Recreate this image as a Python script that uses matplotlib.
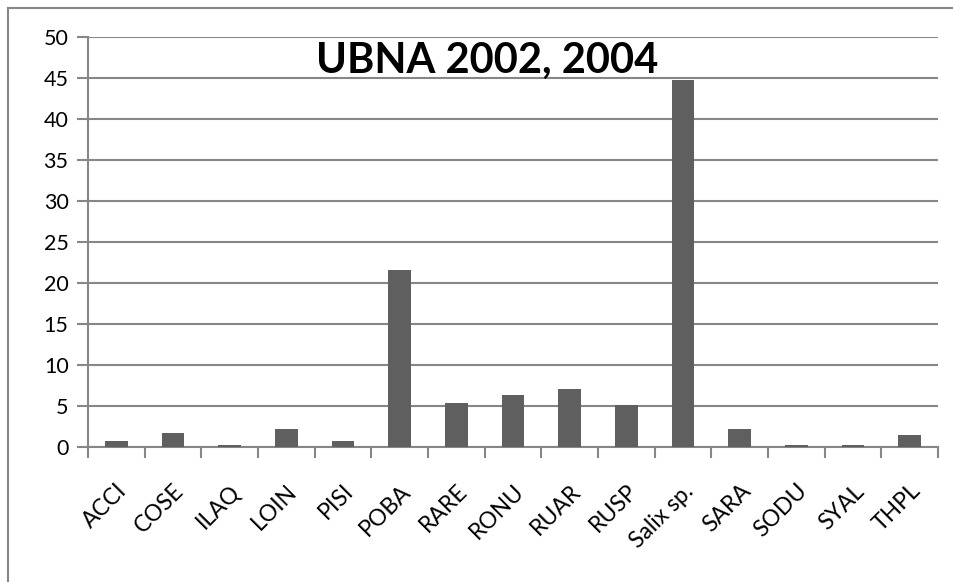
import numpy as np
import matplotlib as mpl
import matplotlib.pyplot as plt
from matplotlib.lines import Line2D

species = ['ACCI', 'COSE', 'ILAQ', 'LOIN', 'PISI', 'POBA', 'RARE', 'RONU',
           'RUAR', 'RUSP', 'Salix sp.', 'SARA', 'SODU', 'SYAL', 'THPL']
cover = [0.7, 1.7, 0.3, 2.2, 0.7, 21.6, 5.4, 6.4, 7.1, 5.1, 44.8, 2.2, 0.3, 0.3, 1.5]
yticks = [0, 5, 10, 15, 20, 25, 30, 35, 40, 45, 50]

plt.rcParams['font.family'] = ['Lato', 'DejaVu Sans']

grid_c = '#868686'
bar_c = '#5f5f5f'

fig = plt.figure(figsize=(9.54, 5.82), dpi=100)
ax = fig.add_axes([88 / 954, 1 - 447 / 582, 850 / 954, 410 / 582])

x = np.arange(len(species))
ax.bar(x, cover, width=0.4, color=bar_c, zorder=3)

ax.set_xlim(-0.5, len(species) - 0.5)
ax.set_ylim(0, 50)
ax.set_yticks(yticks)
ax.tick_params(axis='y', length=8, width=1.5, color=grid_c, labelsize=15.5, pad=6)
ax.yaxis.grid(True, color=grid_c, lw=1.5, zorder=0)

# boundary ticks between categories, labels at the centres
ax.set_xticks(np.arange(len(species) + 1) - 0.5)
ax.set_xticklabels([])
ax.tick_params(axis='x', which='major', length=8, width=1.5, color=grid_c)
ax.set_xticks(x, minor=True)
ax.set_xticklabels(species, minor=True, rotation=45, ha='right', va='top',
                   rotation_mode='anchor', fontsize=16.5)
ax.tick_params(axis='x', which='minor', length=0, pad=24)

for s in ['top', 'right']:
    ax.spines[s].set_visible(False)
for s in ['left', 'bottom']:
    ax.spines[s].set_color(grid_c)
    ax.spines[s].set_linewidth(1.5)
ax.set_axisbelow(True)

fig.text(487 / 954, 1 - 73 / 582, 'UBNA 2002, 2004', ha='center', va='baseline',
         fontsize=30, fontweight='bold')

# outer chart frame
fig.add_artist(Line2D([8 / 954, 8 / 954], [0, 1 - 8 / 582], color=grid_c, lw=1.5))
fig.add_artist(Line2D([8 / 954, 1], [1 - 8 / 582, 1 - 8 / 582], color=grid_c, lw=1.5))

fig.savefig('out.png', dpi=100)
